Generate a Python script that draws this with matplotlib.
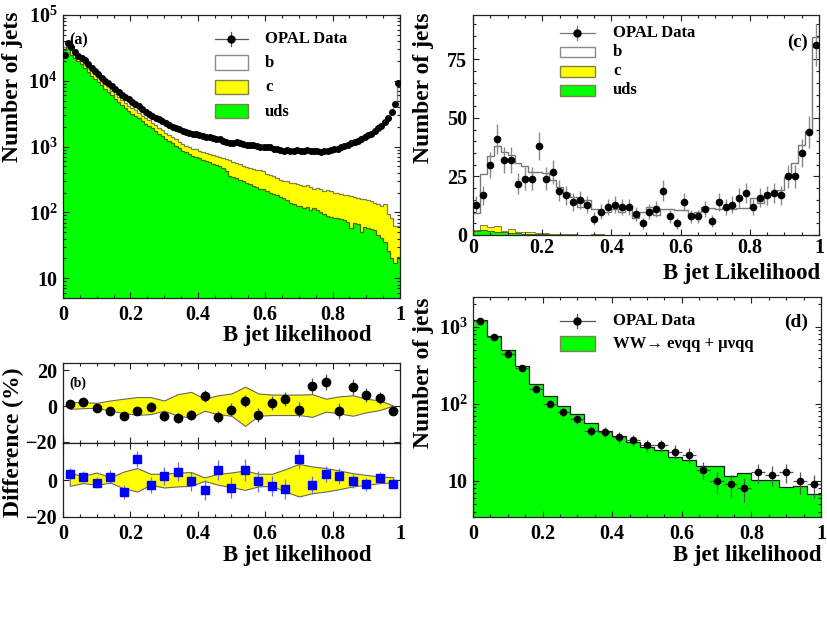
import numpy as np
import matplotlib
matplotlib.use('Agg')
import matplotlib.pyplot as plt
from matplotlib.ticker import FixedLocator, MultipleLocator, FuncFormatter, LogLocator, NullFormatter
from matplotlib.patches import Rectangle
from matplotlib.lines import Line2D

plt.rcParams['font.family'] = ['Liberation Serif', 'DejaVu Serif']
plt.rcParams['font.weight'] = 'bold'
plt.rcParams['mathtext.fontset'] = 'custom'
plt.rcParams['mathtext.rm'] = 'Liberation Serif:bold'
plt.rcParams['mathtext.bf'] = 'Liberation Serif:bold'
plt.rcParams['mathtext.it'] = 'Liberation Serif:bold:italic'

# ---------------- Panel (a): 100 bins ----------------
data_a = [24500, 38000, 33100, 27500, 24000, 22400, 20400, 17800, 15800, 14100,
          12600, 11200, 10000, 9120, 8320, 7410, 6760, 6170, 5620, 5250,
          4790, 4470, 4070, 3720, 3390, 3090, 2880, 2750, 2600, 2450,
          2290, 2140, 2000, 1910, 1820, 1740, 1660, 1600, 1570, 1530,
          1500, 1460, 1410, 1380, 1350, 1320, 1290, 1230, 1190, 1150,
          1150, 1160, 1120, 1100, 1070, 1050, 1040, 1020, 1000, 990,
          977, 970, 933, 912, 891, 871, 880, 865, 871, 890,
          868, 870, 885, 872, 851, 845, 832, 848, 870, 891,
          912, 933, 977, 1020, 1070, 1120, 1175, 1230, 1290, 1380,
          1480, 1580, 1740, 1910, 2090, 2340, 2750, 3390, 4370, 9120]
# stacked MC levels: b + c + uds (total), c + uds, uds
mc_total_a = [33000, 39500, 33500, 27800, 24300, 22100, 20100, 17900, 15900, 14200,
              12700, 11300, 10100, 9150, 8350, 7450, 6800, 6200, 5650, 5250,
              4820, 4480, 4100, 3740, 3400, 3110, 2890, 2740, 2590, 2440,
              2280, 2150, 2010, 1910, 1820, 1740, 1670, 1610, 1570, 1530,
              1490, 1450, 1410, 1370, 1340, 1310, 1280, 1240, 1190, 1150,
              1140, 1150, 1120, 1090, 1060, 1050, 1030, 1010, 1000, 985,
              970, 960, 935, 905, 890, 875, 870, 870, 875, 880,
              870, 868, 875, 868, 855, 845, 838, 845, 865, 885,
              910, 935, 970, 1015, 1060, 1110, 1170, 1225, 1290, 1370,
              1470, 1580, 1720, 1890, 2080, 2320, 2700, 3350, 4300, 9000]
uds_c_a = [30900, 36300, 30200, 26300, 23400, 20900, 18200, 15800, 14100, 12600,
           11200, 10000, 8910, 7940, 7080, 6310, 5620, 5130, 4570, 4170,
           3800, 3550, 3240, 2950, 2690, 2510, 2290, 2140, 1950, 1780,
           1620, 1510, 1380, 1290, 1175, 1100, 1020, 977, 933, 912,
           871, 832, 794, 759, 741, 708, 692, 676, 646, 617,
           589, 562, 550, 513, 490, 468, 457, 447, 437, 427,
           389, 372, 355, 331, 316, 302, 295, 282, 275, 269,
           263, 251, 257, 240, 229, 234, 224, 214, 219, 209,
           200, 195, 191, 182, 186, 178, 174, 166, 162, 158,
           155, 148, 141, 132, 126, 132, 93, 83, 63, 62]
uds_a = [29500, 33100, 25100, 21900, 20000, 17800, 15500, 13500, 12000, 10700,
         9550, 8510, 7590, 6760, 6030, 5370, 4790, 4270, 3800, 3470,
         3160, 2950, 2690, 2450, 2240, 2040, 1910, 1740, 1580, 1450,
         1320, 1200, 1120, 1020, 955, 871, 832, 776, 724, 692,
         661, 631, 603, 575, 550, 525, 501, 468, 427, 363,
         347, 331, 309, 295, 282, 269, 251, 240, 229, 224,
         209, 200, 191, 182, 174, 166, 155, 141, 132, 126,
         123, 117, 120, 107, 115, 107, 100, 95, 89, 85,
         83, 81, 78, 76, 72, 58, 69, 66, 50, 60,
         58, 55, 54, 45, 41, 35, 26, 20, 17, 21]

# ---------------- Panel (b): 25 bins ----------------
diff_up = [1.2, 2.2, -1.2, -2.6, -5.8, -3.0, -0.3, -5.8, -6.8, -5.0,
           5.6, -6.0, -2.0, 2.8, -5.0, 1.6, 4.1, -2.0, 11.1, 13.2,
           -2.8, 10.4, 6.0, 4.5, -2.6]
err_up = [1.5, 1.5, 1.5, 1.8, 2.0, 2.2, 2.5, 2.5, 2.8, 3.0,
          3.2, 3.2, 3.5, 3.5, 3.8, 4.0, 4.0, 4.0, 4.3, 4.5,
          4.5, 4.5, 4.0, 3.5, 2.5]
band_up_hi = [2.2, 2.2, 1.8, 3.1, 4.1, 5.0, 5.0, 3.1, 6.6, 7.9,
              4.1, 6.0, 7.0, 10.8, 7.0, 6.4, 6.4, 6.4, 6.6, 4.1,
              5.4, 6.0, 4.1, 3.1, 0.3]
band_up_lo = [-1.6, -1.2, -1.0, -2.6, -3.9, -4.9, -4.5, -2.6, -5.4, -6.4,
              -2.6, -4.5, -5.4, -11.1, -5.4, -5.0, -5.0, -5.0, -6.0, -3.1,
              -4.1, -5.4, -3.5, -2.2, 0.3]
diff_lo = [3.4, 1.7, -1.4, 1.7, -6.6, 11.5, -2.6, 2.3, 4.6, -0.8,
           -5.4, 5.5, -4.1, 5.5, -0.8, -3.2, -5.0, 11.5, -2.6, 3.2,
           2.3, -0.5, -2.3, 1.2, -2.1]
err_lo = [3.0, 3.0, 3.0, 3.5, 4.0, 4.5, 4.5, 5.0, 5.0, 5.0,
          5.5, 5.5, 5.5, 6.0, 5.5, 5.5, 5.5, 5.5, 5.0, 4.5,
          4.5, 4.0, 3.5, 3.0, 2.5]
band_lo_hi = [3.7, 2.3, 4.1, 1.5, 4.6, 6.5, 3.4, 3.4, 4.1, 4.3,
              1.4, 3.4, 4.1, 5.2, 3.4, 3.4, 5.9, 8.8, 7.4, 6.5,
              5.2, 3.7, 2.8, 1.9, 1.5]
band_lo_lo = [-3.2, -1.7, -2.6, -1.4, -4.5, -6.3, -2.6, -4.1, -3.5, -3.2,
              -0.5, -2.6, -3.9, -5.4, -3.5, -3.2, -6.3, -9.0, -7.2, -6.3,
              -5.0, -3.5, -2.6, -1.7, -1.4]

# ---------------- Panel (c): 50 bins ----------------
data_c = [13, 17, 30, 41, 32, 32, 22, 24, 24, 38,
          24, 27, 19, 17, 14, 15, 13, 7, 10, 12,
          13, 12, 12, 9, 5, 10, 11, 19, 8, 5,
          14, 8, 8, 11, 6, 14, 12, 13, 16, 18,
          12, 16, 17, 18, 17, 25, 25, 35, 44, 81]
mc_total_c = [9.2, 26.0, 33.9, 38.0, 35.6, 34.1, 30.6, 29.6, 27.0, 27.0,
              26.3, 23.5, 20.6, 18.1, 16.4, 12.1, 14.9, 11.0, 9.2, 10.0,
              11.0, 10.0, 11.0, 7.1, 10.0, 12.1, 8.5, 11.0, 11.0, 10.7,
              10.7, 8.5, 10.0, 12.1, 11.4, 11.0, 11.4, 11.0, 11.4, 11.4,
              15.6, 13.5, 17.8, 18.5, 19.2, 24.9, 30.6, 38.4, 44.5, 84.4]
uds_c_c = [2.1, 4.3, 3.6, 3.8, 1.8, 2.4, 1.4, 1.4, 1.1, 1.0,
           0.8, 0.5, 0.5, 0.4, 0.3, 0.2, 0.2, 0.5, 0.3, 0.1,
           0.1, 0.1, 0.1, 0.0, 0.0, 0.0, 0.0, 0.2, 0.0, 0.0,
           0.0, 0.0, 0.0, 0.0, 0.0, 0.0, 0.0, 0.0, 0.0, 0.2,
           0.0, 0.0, 0.0, 0.0, 0.0, 0.0, 0.0, 0.0, 0.0, 0.0]
uds_cpanel = [1.8, 2.1, 1.7, 1.4, 1.2, 1.0, 0.8, 0.6, 0.5, 0.4,
              0.3, 0.2, 0.2, 0.1, 0.1, 0.1, 0.1, 0.1, 0.1, 0.1,
              0.05, 0.0, 0.0, 0.0, 0.0, 0.0, 0.0, 0.0, 0.0, 0.0,
              0.0, 0.0, 0.0, 0.0, 0.0, 0.0, 0.0, 0.0, 0.0, 0.0,
              0.0, 0.0, 0.0, 0.0, 0.0, 0.0, 0.0, 0.0, 0.0, 0.0]

# ---------------- Panel (d): 25 bins ----------------
data_d = [1200, 740, 442, 296, 158, 101, 79, 63, 45, 43,
          37, 34, 29, 29, 24, 22, 14, 10, 9.1, 8.1,
          13, 12, 13, 10, 9]
mc_d = [1220, 764, 497, 308, 183, 126, 93, 75, 56, 45,
        38, 32, 28, 25, 20.6, 18.5, 15.6, 15.6, 11.5, 12.5,
        10.4, 10.2, 8.4, 8.5, 6.7]

xtick_vals = [0, 0.2, 0.4, 0.6, 0.8, 1.0]
xtick_labels = ['0', '0.2', '0.4', '0.6', '0.8', '1']

# ---------------- figure ----------------
W, H = 828, 620
fig = plt.figure(figsize=(W / 100, H / 100), dpi=100)


def ax_rect(l, t, r, b):
    return [l / W, 1 - b / H, (r - l) / W, (b - t) / H]


def fx(x):
    return x / W


def fy(y):
    return 1 - y / H


TICK_FS = 14.5
LAB_FS = 16.5
LEG_FS = 12
FRAME = '#222222'


def style(ax, xlabels=True, xpad=5):
    ax.set_xlim(0, 1)
    ax.xaxis.set_major_locator(FixedLocator(xtick_vals))
    ax.xaxis.set_minor_locator(MultipleLocator(0.05))
    if xlabels:
        ax.set_xticklabels(xtick_labels)
    else:
        ax.set_xticklabels([])
    ax.tick_params(which='both', direction='in', top=True, right=True,
                   color=FRAME, labelsize=TICK_FS, width=0.8)
    ax.tick_params(which='major', length=4.5)
    ax.tick_params(which='minor', length=2.3)
    ax.tick_params(axis='x', pad=xpad)
    ax.tick_params(axis='y', pad=4)
    for s in ax.spines.values():
        s.set_linewidth(0.9)
        s.set_color(FRAME)


def logfmt(v, pos):
    e = int(round(np.log10(v)))
    if e == 1:
        return '10'
    return r'$\mathbf{10^{%d}}$' % e


def setlog(ax):
    ax.set_yscale('log')
    ax.yaxis.set_major_locator(LogLocator(base=10, numticks=12))
    ax.yaxis.set_minor_locator(LogLocator(base=10, subs=np.arange(2, 10), numticks=12))
    ax.yaxis.set_minor_formatter(NullFormatter())
    ax.yaxis.set_major_formatter(FuncFormatter(logfmt))


GREEN = '#00ff00'
YELLOW = '#ffff00'
EDGE_G = '#4d6a00'
EDGE_Y = '#80804a'
EDGE_B = '#8a8a8a'

# ---- (a)
ax_a = fig.add_axes(ax_rect(63, 15, 400, 298))
edges_a = np.linspace(0, 1, len(data_a) + 1)
cent_a = 0.5 * (edges_a[:-1] + edges_a[1:])
ax_a.stairs(mc_total_a, edges_a, fill=True, color='white', lw=0, baseline=1, zorder=1)
ax_a.stairs(mc_total_a, edges_a, color=EDGE_B, lw=0.9, baseline=None, zorder=1.1)
ax_a.stairs(uds_c_a, edges_a, fill=True, color=YELLOW, lw=0, baseline=1, zorder=1.2)
ax_a.stairs(uds_c_a, edges_a, color=EDGE_Y, lw=0.9, baseline=None, zorder=1.3)
ax_a.stairs(uds_a, edges_a, fill=True, color=GREEN, lw=0, baseline=1, zorder=1.4)
ax_a.stairs(uds_a, edges_a, color=EDGE_G, lw=0.9, baseline=None, zorder=1.5)
ax_a.plot(cent_a, data_a, 'o', color='black', ms=4.0, zorder=3)
setlog(ax_a)
ax_a.set_ylim(5, 1e5)
style(ax_a)

# ---- (b)
edges_b = np.linspace(0, 1, len(diff_up) + 1)
cent_b = 0.5 * (edges_b[:-1] + edges_b[1:])
ax_b1 = fig.add_axes(ax_rect(63, 363, 400, 443))
ax_b1.fill_between(cent_b, band_up_lo, band_up_hi, facecolor=YELLOW,
                   edgecolor='#666666', lw=0.8, zorder=1)
ax_b1.errorbar(cent_b, diff_up, yerr=err_up, fmt='o', color='black', ms=6,
               ecolor='#555555', elinewidth=0.9, capsize=0, zorder=3)
ax_b1.set_ylim(-20.6, 24.0)
ax_b1.yaxis.set_major_locator(FixedLocator([-20, 0, 20]))
ax_b1.yaxis.set_major_formatter(FuncFormatter(lambda v, p: '%d' % v if v >= 0 else '\u2212%d' % -v))
style(ax_b1, xlabels=False)

ax_b2 = fig.add_axes(ax_rect(63, 443, 400, 517))
ax_b2.fill_between(cent_b, band_lo_lo, band_lo_hi, facecolor=YELLOW,
                   edgecolor='#666666', lw=0.8, zorder=1)
ax_b2.errorbar(cent_b, diff_lo, yerr=err_lo, fmt='s', color='#0000ff', ms=5.5,
               ecolor='#6a6aff', elinewidth=0.9, capsize=0, zorder=3)
ax_b2.set_ylim(-20.2, 20.2)
ax_b2.yaxis.set_major_locator(FixedLocator([-20, 0, 20]))
ax_b2.yaxis.set_major_formatter(FuncFormatter(lambda v, p: '' if v > 10 else ('%d' % v if v >= 0 else '\u2212%d' % -v)))
style(ax_b2)

# ---- (c)
ax_c = fig.add_axes(ax_rect(473, 15, 819, 235))
edges_c = np.linspace(0, 1, len(data_c) + 1)
cent_c = 0.5 * (edges_c[:-1] + edges_c[1:])
ax_c.stairs(mc_total_c, edges_c, color='#777777', lw=1.0, baseline=None, zorder=1.1)
ax_c.stairs(uds_c_c, edges_c, fill=True, facecolor=YELLOW, edgecolor=EDGE_Y, lw=0.7, zorder=1.2)
ax_c.stairs(uds_cpanel, edges_c, fill=True, facecolor=GREEN, edgecolor=EDGE_G, lw=0.7, zorder=1.4)
ax_c.errorbar(cent_c, data_c, yerr=np.sqrt(data_c), fmt='o', color='black', ms=4.5,
              ecolor='#8a8a8a', elinewidth=1.0, capsize=0, zorder=3)
ax_c.set_ylim(0, 94)
ax_c.yaxis.set_major_locator(FixedLocator([0, 25, 50, 75]))
ax_c.yaxis.set_minor_locator(MultipleLocator(5))
style(ax_c, xpad=2.5)

# ---- (d)
ax_d = fig.add_axes(ax_rect(473, 297, 821, 517))
edges_d = np.linspace(0, 1, len(data_d) + 1)
cent_d = 0.5 * (edges_d[:-1] + edges_d[1:])
ax_d.stairs(mc_d, edges_d, fill=True, color=GREEN, lw=0, baseline=1, zorder=1)
ax_d.stairs(mc_d, edges_d, color='#1a1a1a', lw=0.9, baseline=None, zorder=1.1)
ax_d.errorbar(cent_d, data_d, yerr=np.sqrt(data_d), xerr=0.5 * np.diff(edges_d), fmt='o',
              color='black', ms=4.5, ecolor='#555555', elinewidth=0.9, capsize=0, zorder=3)
setlog(ax_d)
ax_d.set_ylim(3.4, 2450)
style(ax_d)

# ---- axis titles
fig.text(fx(13), fy(87), 'Number of jets', rotation=90, ha='center', va='center', fontsize=LAB_FS + 0.5)
fig.text(fx(13), fy(442), 'Difference (%)', rotation=90, ha='center', va='center', fontsize=LAB_FS + 0.5)
fig.text(fx(424), fy(88), 'Number of jets', rotation=90, ha='center', va='center', fontsize=LAB_FS + 0.5)
fig.text(fx(424), fy(373), 'Number of jets', rotation=90, ha='center', va='center', fontsize=LAB_FS + 0.5)
fig.text(fx(372), fy(335), 'B jet likelihood', ha='right', va='center', fontsize=LAB_FS)
fig.text(fx(372), fy(556), 'B jet likelihood', ha='right', va='center', fontsize=LAB_FS)
fig.text(fx(820), fy(273), 'B jet Likelihood', ha='right', va='center', fontsize=LAB_FS)
fig.text(fx(822), fy(555), 'B jet likelihood', ha='right', va='center', fontsize=LAB_FS)

# ---- panel tags
fig.text(fx(69), fy(40), '(a)', ha='left', va='center', fontsize=11.5)
fig.text(fx(69), fy(383), '(b)', ha='left', va='center', fontsize=10)
fig.text(fx(808), fy(42), '(c)', ha='right', va='center', fontsize=13.5)
fig.text(fx(808), fy(322), '(d)', ha='right', va='center', fontsize=14)


# ---- legends (drawn in figure pixels)
def leg_marker(x0, x1, y, ms, ecolor):
    xm = 0.5 * (x0 + x1)
    fig.add_artist(Line2D([fx(x0), fx(x1)], [fy(y), fy(y)], color=ecolor, lw=0.9,
                          transform=fig.transFigure, zorder=5))
    fig.add_artist(Line2D([fx(xm), fx(xm)], [fy(y - 7), fy(y + 7)], color=ecolor, lw=0.9,
                          transform=fig.transFigure, zorder=5))
    fig.add_artist(Line2D([fx(xm)], [fy(y)], marker='o', ms=ms, color='black', lw=0,
                          transform=fig.transFigure, zorder=6))


def leg_box(x0, x1, y0, y1, fc, ec):
    fig.add_artist(Rectangle((fx(x0), fy(y1)), (x1 - x0) / W, (y1 - y0) / H,
                             facecolor=fc, edgecolor=ec, lw=1.0,
                             transform=fig.transFigure, zorder=5))


def leg_text(x, y, s):
    fig.text(fx(x), fy(y), s, ha='left', va='center', fontsize=LEG_FS, zorder=6,
             family=['Liberation Serif', 'DejaVu Serif'])


# (a)
leg_marker(215, 248, 39, 5, '#555555')
leg_text(265, 39, 'OPAL Data')
leg_box(215, 248, 55, 70, 'white', '#8a8a8a')
leg_text(265, 63, 'b')
leg_box(215, 248, 80, 94, YELLOW, EDGE_Y)
leg_text(265, 87, 'c')
leg_box(215, 248, 104, 118, GREEN, EDGE_Y)
leg_text(265, 112, 'uds')

# (c)
leg_marker(560, 595, 33, 5, '#777777')
leg_text(613, 33, 'OPAL Data')
leg_box(560, 595, 47, 57, 'white', '#8a8a8a')
leg_text(613, 52, 'b')
leg_box(560, 595, 66, 77, YELLOW, EDGE_Y)
leg_text(613, 71, 'c')
leg_box(560, 595, 85, 96, GREEN, EDGE_Y)
leg_text(613, 90, 'uds')

# (d)
leg_marker(560, 595, 321, 5, '#555555')
leg_text(613, 321, 'OPAL Data')
leg_box(560, 595, 336, 351, GREEN, EDGE_Y)
leg_text(613, 344, 'WW\u2192 e\u03bdqq + \u03bc\u03bdqq')

fig.savefig('out.png', dpi=100)
